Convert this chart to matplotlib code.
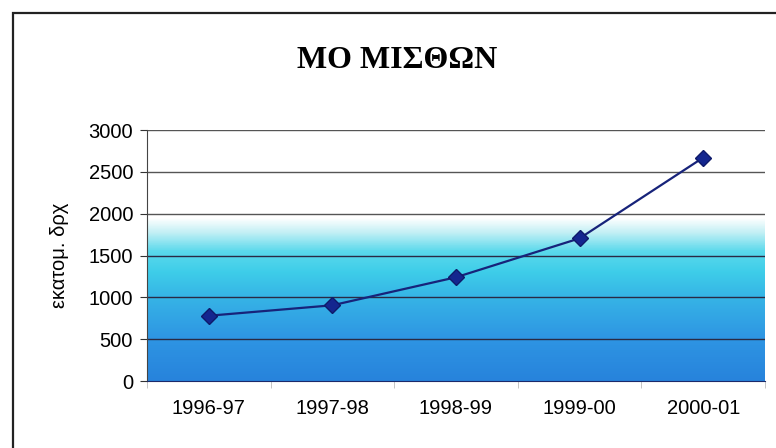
import numpy as np
import matplotlib.pyplot as plt
from matplotlib.colors import LinearSegmentedColormap
from matplotlib.patches import Rectangle

# Average salaries per year (million drachmas)
years = ["1996-97", "1997-98", "1998-99", "1999-00", "2000-01"]
salaries = [780, 905, 1240, 1705, 2670]

title_text = "ΜΟ ΜΙΣΘΩΝ"
ylabel_text = "εκατομ. δρχ"
y_ticks = [0, 500, 1000, 1500, 2000, 2500, 3000]

fig = plt.figure(figsize=(7.76, 4.48), dpi=100)
fig.patch.set_facecolor("white")

# outer chart frame (top and left edges visible, rest runs off the page)
fig.patches.append(Rectangle((13 / 776, -0.1), 1.2, 1 - 13 / 448 + 0.1,
                             transform=fig.transFigure, fill=False,
                             edgecolor="#222222", linewidth=1.6))

ax = fig.add_axes([147 / 776, (448 - 381) / 448, 618 / 776, 251 / 448])
ax.set_xlim(-0.5, len(years) - 0.5)
ax.set_ylim(0, 3000)

# vertical gradient background: blue at the bottom to cyan, fading to white
stops = [(0.0, "#2783dc"), (500 / 3000, "#2e95e3"), (1000 / 3000, "#36b4e6"),
         (1300 / 3000, "#3ecde9"), (1550 / 3000, "#5ad9ec"),
         (1780 / 3000, "#c4f0f5"), (1950 / 3000, "#ffffff"), (1.0, "#ffffff")]
cmap = LinearSegmentedColormap.from_list("bg", stops)
grad = np.linspace(0, 1, 400).reshape(-1, 1)
ax.imshow(grad, cmap=cmap, origin="lower", aspect="auto",
          extent=(-0.5, len(years) - 0.5, 0, 3000), zorder=0)

for v in y_ticks[1:]:
    ax.axhline(v, color="#2a2a44" if v < 2000 else "#555555",
               linewidth=1.0, zorder=1)

x = np.arange(len(years))
ax.plot(x, salaries, color="#17237a", linewidth=1.6, marker="D",
        markersize=8, markerfacecolor="#14268f", markeredgecolor="#0e1a6a",
        zorder=3)

ax.set_yticks(y_ticks)
ax.set_yticklabels([str(v) for v in y_ticks], fontsize=14.5,
                   family="Liberation Sans")
ax.set_xticks(x)
ax.set_xticklabels(years, fontsize=14.5, family="Liberation Sans")
ax.set_xticks(np.arange(len(years) + 1) - 0.5, minor=True)
ax.tick_params(axis="x", which="major", length=0, pad=13)
ax.tick_params(axis="x", which="minor", length=5, color="#bbbbbb")
ax.tick_params(axis="y", length=5, color="#333333", pad=5)

for side in ["top", "right"]:
    ax.spines[side].set_visible(False)
ax.spines["left"].set_color("#444444")
ax.spines["bottom"].set_color("#1c2a6a")

ax.set_ylabel(ylabel_text, fontsize=14.5, family="Liberation Sans", labelpad=14)

fig.text(397 / 776, 1 - 61 / 448, title_text, ha="center", va="center",
         fontsize=23, fontweight="bold", family="Liberation Serif")

fig.savefig("out.png", dpi=100)
